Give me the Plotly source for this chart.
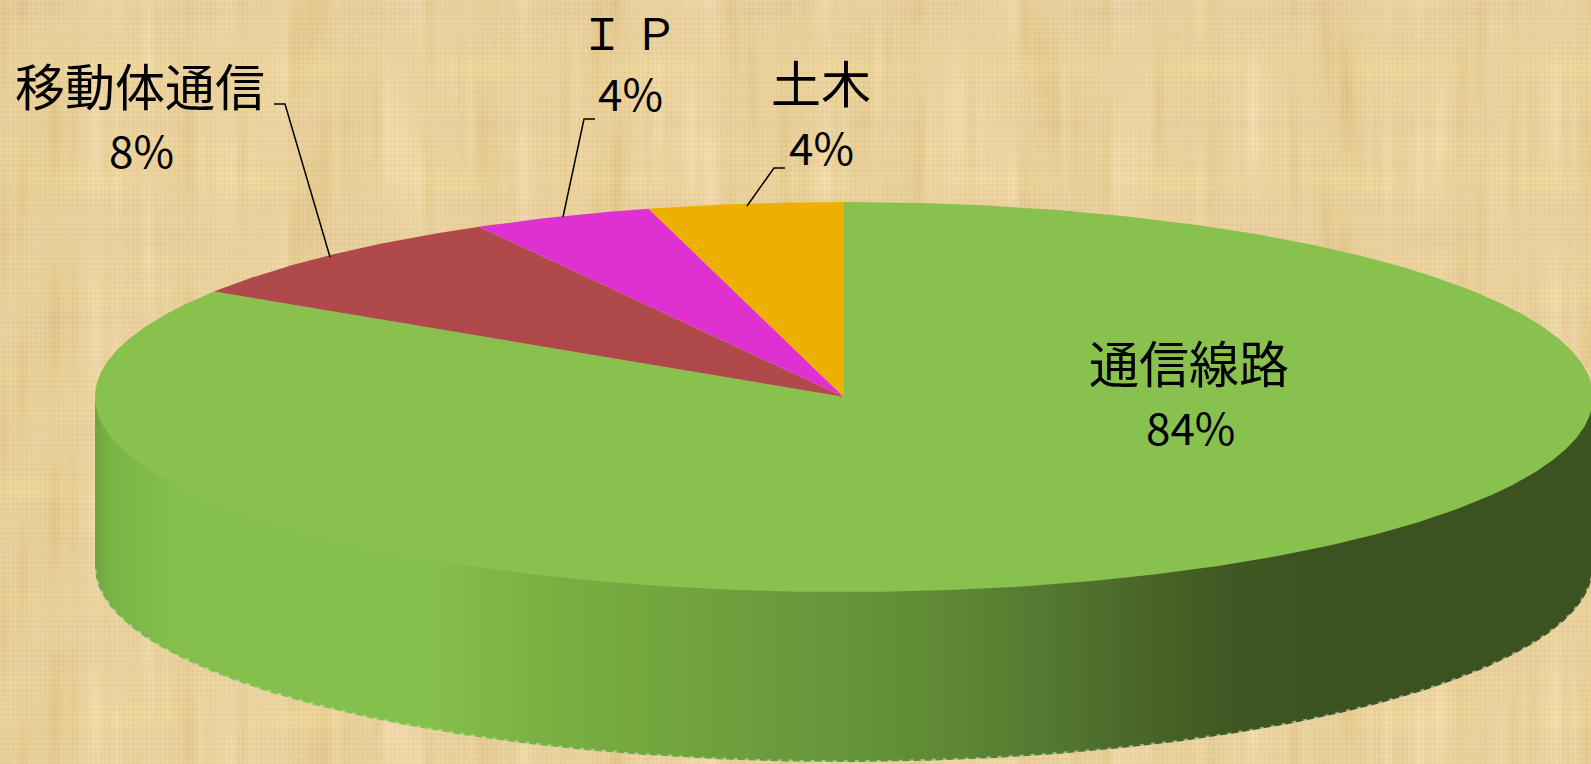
import base64
import struct
import zlib

import numpy as np
import plotly.graph_objects as go

# ---- data ----
categories = ["通信線路", "移動体通信", "Ｉ Ｐ", "土木"]
values = [84.1, 7.8, 3.9, 4.2]

# ---- style ----
slice_colors = ["#88c14e", "#b04949", "#df30d2", "#eeb000"]
wall_stops = [
    (0.000, "#6ea63e"), (0.012, "#7ab446"), (0.060, "#86c04c"), (0.220, "#86c04c"),
    (0.300, "#7ab042"), (0.400, "#70a33d"), (0.500, "#66953a"), (0.570, "#5f8834"),
    (0.640, "#547830"), (0.700, "#496628"), (0.760, "#3f5822"), (0.830, "#3c5220"),
    (1.000, "#3c5220"),
]
W, H = 1591, 764
CX, CY, RX, RY, DEPTH = 844.0, 397.0, 749.0, 195.0, 170.0
label_font = "Noto Sans CJK JP"
name_pos = [(1189, 361), (140, 84), (629, 31), (821, 81)]
name_size = [50, 50, 44, 50]
pct_pos = [(1190, 426), (141, 149), (630, 92), (821, 146)]
leaders = [
    None,
    ([274, 285, 330], [104, 104, 257]),
    ([595, 584, 563], [119, 119, 217]),
    ([785, 774, 747], [168, 168, 206]),
]


def paper_texture():
    """Deterministic woven-paper background from layered sines (decoration only)."""
    x = np.arange(W, dtype=float)
    y = np.arange(H, dtype=float)
    vband = (np.sin(x / 23.0) + 0.8 * np.sin(x / 9.7 + 1.3) + 0.6 * np.sin(x / 41.0 + 0.4)
             + 0.7 * np.sin(x / 4.3 + 2.1) + 0.5 * np.sin(x / 2.7))
    vmod = 0.55 + 0.45 * np.sin(y[:, None] / 31.0 + np.sin(x / 47.0) * 4.0)
    hband = np.sin(y / 17.0 + 0.7) + 0.8 * np.sin(y / 6.1) + 0.5 * np.sin(y / 47.0 + 2.0)
    hmod = 0.55 + 0.45 * np.sin(x[None, :] / 29.0 + np.sin(y[:, None] / 53.0) * 4.0)
    thread_x = np.sin(x * 2 * np.pi / 4.6)
    thread_y = np.sin(y * 2 * np.pi / 4.9)
    v = vband[None, :] * vmod
    h = hband[:, None] * hmod
    t = thread_x[None, :] + thread_y[:, None]
    shade = -3.6 * v - 2.2 * h + 3.0 * t * (0.6 + 0.4 * hmod)
    r = 234 + shade * 0.8
    g = 209 + shade * 1.05
    b = 156 + shade * 1.8 + 4.0 * h
    rgb = np.clip(np.dstack([r, g, b]), 0, 255).astype(np.uint8)
    raw = b"".join(b"\x00" + row.tobytes() for row in rgb)

    def chunk(tag, data):
        return (struct.pack(">I", len(data)) + tag + data
                + struct.pack(">I", zlib.crc32(tag + data) & 0xffffffff))

    png = (b"\x89PNG\r\n\x1a\n"
           + chunk(b"IHDR", struct.pack(">IIBBBBB", W, H, 8, 2, 0, 0, 0))
           + chunk(b"IDAT", zlib.compress(raw, 9))
           + chunk(b"IEND", b""))
    return "data:image/png;base64," + base64.b64encode(png).decode()


def wedge(start_frac, end_frac):
    n = max(3, int((end_frac - start_frac) * 720))
    th = np.linspace(start_frac, end_frac, n) * 2 * np.pi
    xs = np.concatenate([[CX], CX + RX * np.sin(th), [CX]])
    ys = np.concatenate([[CY], CY - RY * np.cos(th), [CY]])
    return xs, ys


fig = go.Figure()

# side wall of the disc (runs up behind the top face so no seam shows)
t = np.linspace(0, np.pi, 721)
wx = CX + RX * np.cos(t)
wy = CY + RY * np.sin(t)
fig.add_trace(go.Scatter(
    x=np.concatenate([wx, wx[::-1]]),
    y=np.concatenate([np.full_like(wy, CY), wy[::-1] + DEPTH]),
    mode="lines", line=dict(width=0), fill="toself",
    fillgradient=dict(type="horizontal", start=CX - RX, stop=W, colorscale=wall_stops),
    hoverinfo="skip", showlegend=False,
))
# pale stitched rim along the bottom edge
fig.add_trace(go.Scatter(
    x=wx, y=wy + DEPTH - 0.5, mode="lines",
    line=dict(color="rgba(205,228,195,0.6)", width=2.5, dash="4px,7px"),
    hoverinfo="skip", showlegend=False,
))

# top face
total = sum(values)
frac = 0.0
for name, val, col in zip(categories, values, slice_colors):
    xs, ys = wedge(frac, frac + val / total)
    fig.add_trace(go.Scatter(
        x=xs, y=ys, mode="lines", line=dict(width=0, color=col), fill="toself",
        fillcolor=col, name=name, hoverinfo="name", showlegend=False,
    ))
    frac += val / total

# leader lines
for seg in leaders:
    if seg:
        fig.add_trace(go.Scatter(
            x=seg[0], y=seg[1], mode="lines", line=dict(color="#000000", width=1.5),
            hoverinfo="skip", showlegend=False,
        ))

annotations = []
for name, val, np_, size, pp in zip(categories, values, name_pos, name_size, pct_pos):
    annotations.append(dict(x=np_[0], y=np_[1], text=name, showarrow=False,
                            xanchor="center", yanchor="middle",
                            font=dict(family=label_font, size=size, color="#000000")))
    annotations.append(dict(x=pp[0], y=pp[1], text=f"{val:.0f}%", showarrow=False,
                            xanchor="center", yanchor="middle",
                            font=dict(family=label_font, size=44, color="#000000")))

fig.update_layout(
    width=W, height=H, autosize=False,
    margin=dict(l=0, r=0, t=0, b=0),
    paper_bgcolor="#ecd39e", plot_bgcolor="rgba(0,0,0,0)",
    xaxis=dict(range=[0, W], visible=False, fixedrange=True),
    yaxis=dict(range=[H, 0], visible=False, fixedrange=True),
    annotations=annotations,
    images=[dict(source=paper_texture(), xref="paper", yref="paper", x=0, y=1,
                 sizex=1, sizey=1, xanchor="left", yanchor="top",
                 sizing="stretch", layer="below")],
)
fig.write_html(
    "out.html",
    config={"displayModeBar": False},
    post_script="document.body.style.margin='0';document.documentElement.style.overflow='hidden';",
)
